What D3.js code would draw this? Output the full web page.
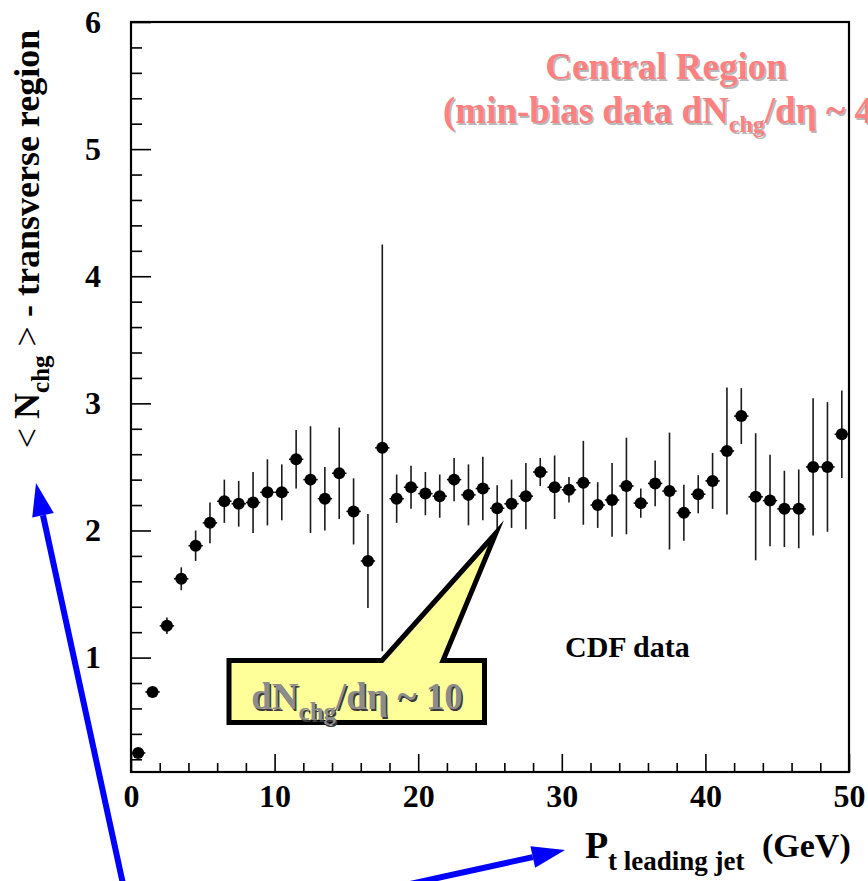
<!DOCTYPE html>
<head>
  <meta charset="utf-8">
  <style>
    body { margin: 0; background: #fff; }
    svg { display: block; }
    svg text { font-family: "Liberation Serif", "Times New Roman", Times, serif; font-weight: bold; }
  </style>
  <script src="https://cdn.jsdelivr.net/npm/d3@7"></script>
</head>
<body>
<div id=chart></div>
<script>
// leading jet Pt bin centres (GeV)
const ptBins = [0.5, 1.5, 2.5, 3.5, 4.5, 5.5, 6.5, 7.5, 8.5, 9.5,
  10.5, 11.5, 12.5, 13.5, 14.5, 15.5, 16.5, 17.5, 18.5, 19.5,
  20.5, 21.5, 22.5, 23.5, 24.5, 25.5, 26.5, 27.5, 28.5, 29.5,
  30.5, 31.5, 32.5, 33.5, 34.5, 35.5, 36.5, 37.5, 38.5, 39.5,
  40.5, 41.5, 42.5, 43.5, 44.5, 45.5, 46.5, 47.5, 48.5, 49.5]
// <Nchg> in the transverse region
const nchg = [0.25, 0.73, 1.25, 1.62, 1.88, 2.06, 2.23, 2.21, 2.22, 2.30,
  2.30, 2.56, 2.40, 2.25, 2.45, 2.15, 1.76, 2.65, 2.25, 2.34,
  2.29, 2.27, 2.40, 2.28, 2.33, 2.175, 2.21, 2.27, 2.46, 2.34,
  2.32, 2.375, 2.20, 2.24, 2.35, 2.215, 2.37, 2.31, 2.14, 2.285,
  2.39, 2.625, 2.90, 2.265, 2.235, 2.17, 2.17, 2.50, 2.50, 2.757]
const nchgErr = [0.03, 0.03, 0.065, 0.09, 0.12, 0.16, 0.17, 0.18, 0.24, 0.26,
  0.22, 0.23, 0.42, 0.25, 0.36, 0.26, 0.37, 1.60, 0.19, 0.17,
  0.17, 0.17, 0.17, 0.24, 0.25, 0.18, 0.19, 0.26, 0.11, 0.25,
  0.10, 0.33, 0.18, 0.29, 0.38, 0.115, 0.18, 0.46, 0.22, 0.15,
  0.22, 0.50, 0.22, 0.50, 0.36, 0.30, 0.31, 0.54, 0.51, 0.345]
const binHalfWidth = 0.5

const xMajorTicks = [0, 10, 20, 30, 40, 50]
const xMinorTicks = [2, 4, 6, 8, 12, 14, 16, 18, 22, 24, 26, 28, 32, 34, 36, 38, 42, 44, 46, 48]
const yMajorTicks = [1, 2, 3, 4, 5, 6]
const yMinorTicks = [0.2, 0.4, 0.6, 0.8, 1.2, 1.4, 1.6, 1.8, 2.2, 2.4, 2.6, 2.8,
  3.2, 3.4, 3.6, 3.8, 4.2, 4.4, 4.6, 4.8, 5.2, 5.4, 5.6, 5.8]

const width = 868, height = 881
const m = { left: 131, right: 849, top: 22, bottom: 772 }
const serif = '"Liberation Serif", "Times New Roman", Times, serif'

const svg = d3.select('#chart').append('svg')
  .attr('width', width).attr('height', height)
  .attr('viewBox', [0, 0, width, height])
  .attr('font-family', serif).attr('font-weight', 'bold')

const x = d3.scaleLinear().domain([0, 50]).range([m.left, m.right])
const y = d3.scaleLinear().domain([0.1, 6]).range([m.bottom, m.top])

// text with a soft drop shadow, slide style
const shadowText = (g, xx, yy, anchor, fill, shadow, dx, size, parts) => {
  for (const [off, col] of [[dx, shadow], [0, fill]]) {
    const t = g.append('text')
      .attr('x', xx + off).attr('y', yy + off)
      .attr('text-anchor', anchor)
      .attr('fill', col)
      .attr('font-size', size)
    parts(t)
  }
}

// title (runs off the right edge, like the slide)
const title = svg.append('g')
shadowText(title, 666, 79, 'middle', '#ff8080', '#b8b8b8', 1.5, 37, t => t.text('Central Region'))
shadowText(title, 443, 123, 'start', '#ff8080', '#b8b8b8', 1.5, 37, t => {
  t.append('tspan').text('(min-bias data dN')
  t.append('tspan').attr('dy', 9).attr('font-size', 24).text('chg')
  t.append('tspan').attr('dy', -9).text('/dη ~ 4)')
})

// axes
const yMajor = svg.append('g').attr('transform', `translate(${m.left},0)`)
  .call(d3.axisLeft(y).tickValues(yMajorTicks).tickSize(-20).tickPadding(30).tickFormat(d3.format('d')))
const yMinor = svg.append('g').attr('transform', `translate(${m.left},0)`)
  .call(d3.axisLeft(y).tickValues(yMinorTicks).tickSize(-11).tickFormat(''))
const xMajor = svg.append('g').attr('transform', `translate(0,${m.bottom})`)
  .call(d3.axisBottom(x).tickValues(xMajorTicks).tickSize(-18).tickPadding(12).tickFormat(d3.format('d')))
const xMinor = svg.append('g').attr('transform', `translate(0,${m.bottom})`)
  .call(d3.axisBottom(x).tickValues(xMinorTicks).tickSize(-9).tickFormat(''))
for (const g of [yMajor, yMinor, xMajor, xMinor]) {
  g.attr('font-family', serif).attr('font-size', 32)
  g.select('.domain').remove()
  g.selectAll('.tick line').attr('stroke', '#000').attr('stroke-width', 1.6)
  g.selectAll('.tick text').attr('font-weight', 'bold').attr('fill', '#000')
}

// frame
svg.append('rect')
  .attr('x', m.left).attr('y', m.top)
  .attr('width', m.right - m.left).attr('height', m.bottom - m.top)
  .attr('fill', 'none').attr('stroke', '#000').attr('stroke-width', 2.2)

// data: error bars + markers
const pts = ptBins.map((p, i) => ({ p, v: nchg[i], e: nchgErr[i] }))
const dataG = svg.append('g')
dataG.selectAll('line.ey').data(pts).join('line')
  .attr('class', 'ey')
  .attr('x1', d => x(d.p)).attr('x2', d => x(d.p))
  .attr('y1', d => y(Math.max(0.1, d.v - d.e))).attr('y2', d => y(d.v + d.e))
  .attr('stroke', '#1a1a1a').attr('stroke-width', 1.6)
dataG.selectAll('line.ex').data(pts).join('line')
  .attr('class', 'ex')
  .attr('x1', d => x(d.p - binHalfWidth)).attr('x2', d => x(d.p + binHalfWidth))
  .attr('y1', d => y(d.v)).attr('y2', d => y(d.v))
  .attr('stroke', '#000').attr('stroke-width', 1.5)
dataG.selectAll('circle').data(pts).join('circle')
  .attr('cx', d => x(d.p)).attr('cy', d => y(d.v)).attr('r', 6)
  .attr('fill', '#000')

// "CDF data"
svg.append('text').attr('x', 565).attr('y', 657)
  .attr('font-size', 30).attr('fill', '#000').text('CDF data')

// callout pointing at the plateau
svg.append('path')
  .attr('d', 'M229,660.5 L382,660.5 L496,533 L443,660.5 L484.5,660.5 L484.5,722.5 L229,722.5 Z')
  .attr('fill', '#ffff99').attr('stroke', '#000').attr('stroke-width', 5)
  .attr('stroke-linejoin', 'miter').attr('stroke-miterlimit', 10)
shadowText(svg, 357, 709, 'middle', '#8c8c8c', '#3a3a3a', 1.5, 37, t => {
  t.append('tspan').text('dN')
  t.append('tspan').attr('dy', 11).attr('font-size', 25).text('chg')
  t.append('tspan').attr('dy', -11).text('/dη ~ 10')
})

// axis titles
svg.append('text')
  .attr('transform', 'translate(39,239) rotate(-90)')
  .attr('text-anchor', 'middle').attr('font-size', 36).attr('fill', '#000')
  .call(t => {
    t.append('tspan').attr('font-weight', 'normal').text('< ')
    t.append('tspan').text('N')
    t.append('tspan').attr('dy', 10).attr('font-size', 25).text('chg')
    t.append('tspan').attr('dy', -10).attr('font-weight', 'normal').text(' > ')
    t.append('tspan').text('- transverse region')
  })

svg.append('text').attr('x', 585).attr('y', 858).attr('font-size', 38).attr('fill', '#000').text('P')
svg.append('text').attr('x', 608).attr('y', 870).attr('font-size', 27).attr('fill', '#000').text('t leading jet')
svg.append('text').attr('x', 762).attr('y', 857).attr('font-size', 34).attr('fill', '#000').text('(GeV)')

// blue arrows
const arrow = (x1, y1, x2, y2) => {
  const a = Math.atan2(y2 - y1, x2 - x1), len = 33, hw = 11
  const bx = x2 - len * Math.cos(a), by = y2 - len * Math.sin(a)
  svg.append('line').attr('x1', x1).attr('y1', y1).attr('x2', bx).attr('y2', by)
    .attr('stroke', '#0000ff').attr('stroke-width', 6)
  svg.append('path')
    .attr('d', `M${x2},${y2} L${bx + hw * Math.sin(a)},${by - hw * Math.cos(a)} L${bx - hw * Math.sin(a)},${by + hw * Math.cos(a)} Z`)
    .attr('fill', '#0000ff')
}
arrow(123, 884, 36, 483)
arrow(410, 884, 565, 850)
</script>
</body>
